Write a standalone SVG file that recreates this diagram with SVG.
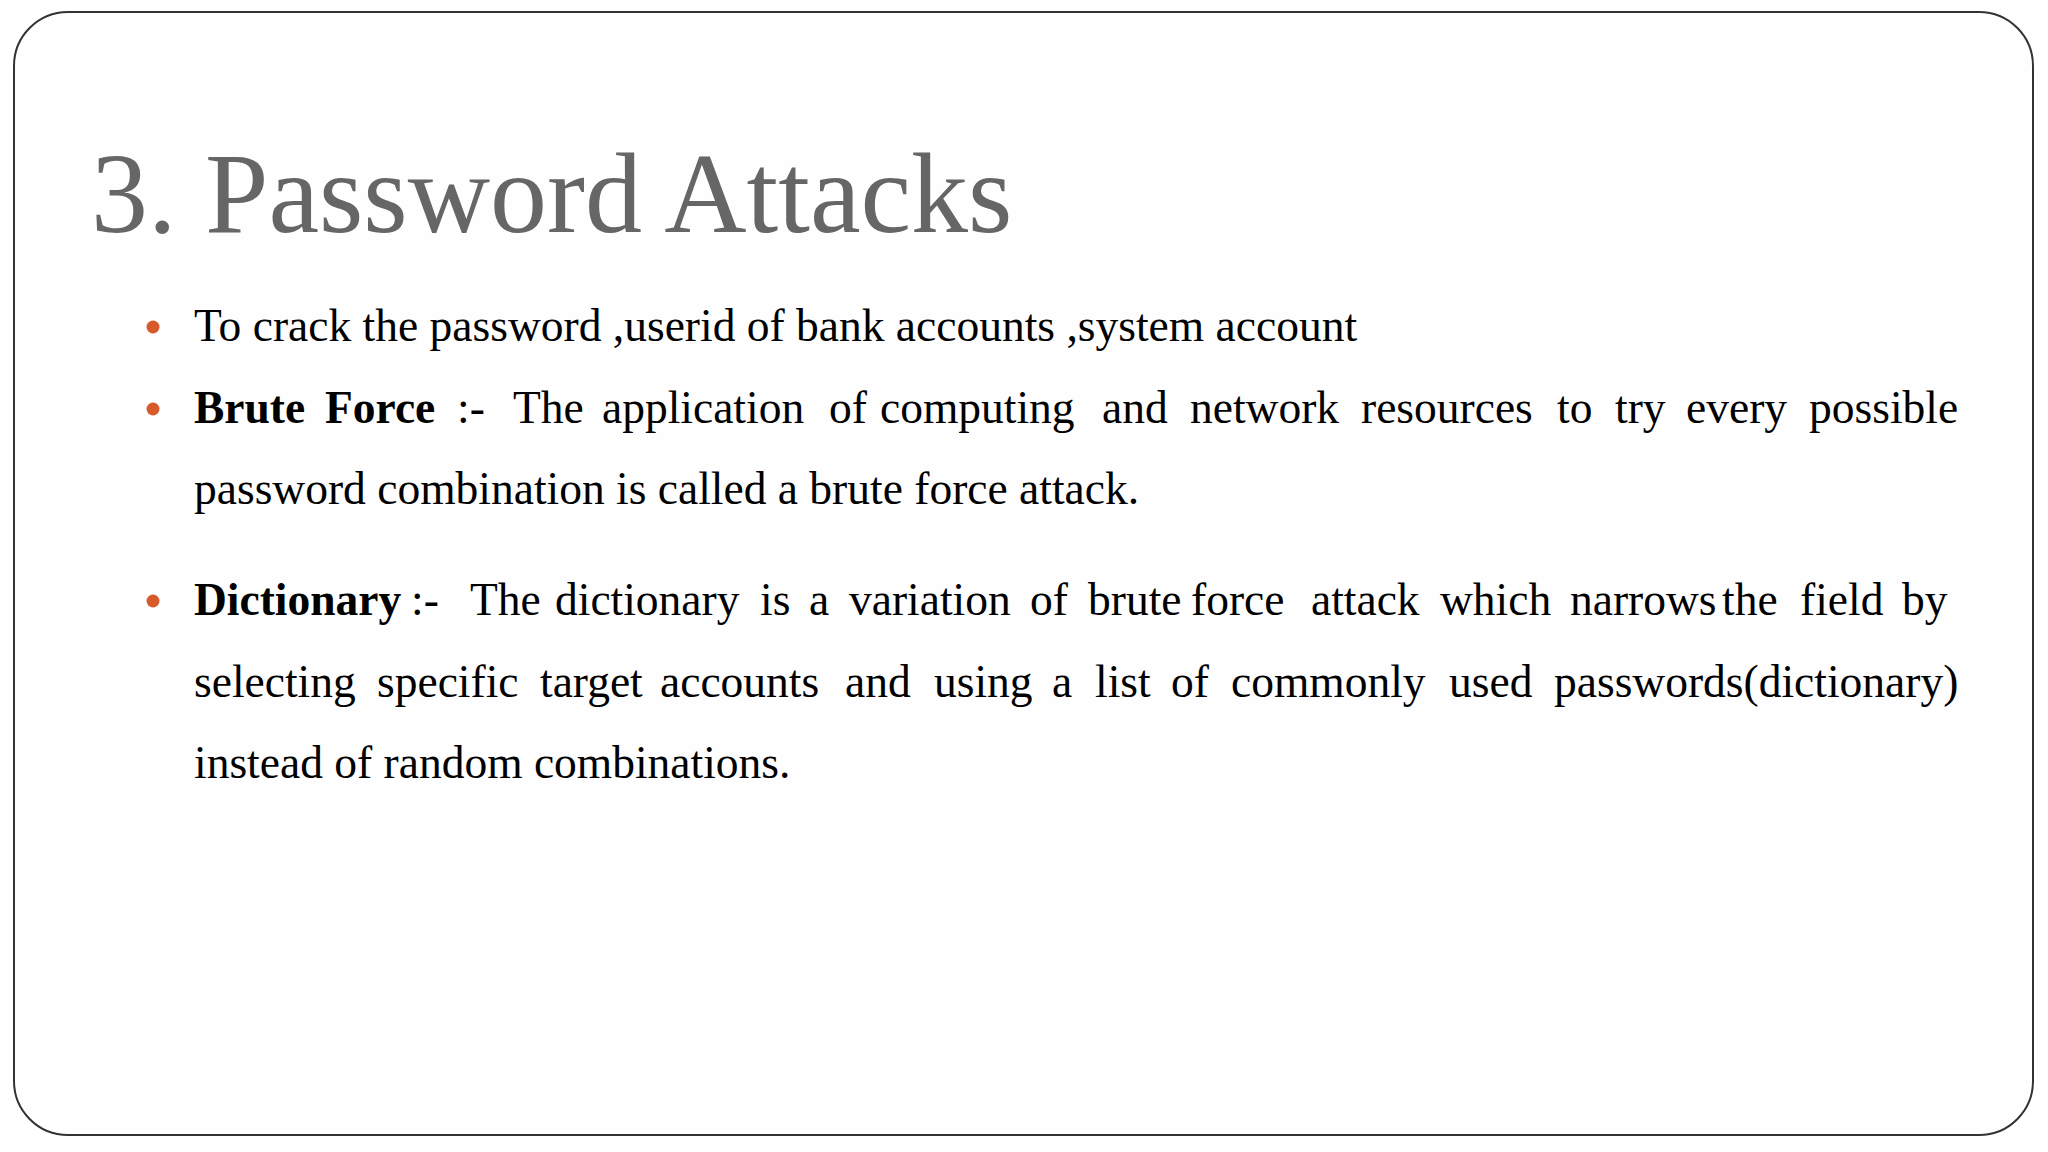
<svg xmlns="http://www.w3.org/2000/svg" width="2048" height="1152" viewBox="0 0 2048 1152">
<style>
.t{font-family:"Liberation Serif",serif;font-size:45.5px;fill:#000}
.b{font-weight:bold}
.dot{fill:#D65A2A}
</style>
<rect width="2048" height="1152" fill="#fff"/>
<g id="frame"><rect x="14" y="12" width="2019" height="1123" rx="54" fill="#fefefe" stroke="#333" stroke-width="2"/></g>
<g id="title"><text x="91" y="232" font-family="Liberation Serif,serif" font-size="114" fill="#666">3. Password Attacks</text></g>
<g id="bullets">
<circle class="dot" cx="153" cy="327" r="6.5"/>
<circle class="dot" cx="153" cy="409" r="6.5"/>
<circle class="dot" cx="153" cy="601" r="6.5"/>
<text class="t" x="194" y="341">To crack the password ,userid of bank accounts ,system account</text>
<text class="t" y="423"><tspan class="b" x="194">Brute</tspan><tspan class="b" x="325">Force</tspan><tspan x="457">:-</tspan><tspan x="513">The</tspan><tspan x="602">application</tspan><tspan x="829">of</tspan><tspan x="880">computing</tspan><tspan x="1102">and</tspan><tspan x="1190">network</tspan><tspan x="1361">resources</tspan><tspan x="1557">to</tspan><tspan x="1615">try</tspan><tspan x="1686">every</tspan><tspan x="1809">possible</tspan></text>
<text class="t" x="194" y="504">password combination is called a brute force attack.</text>
<text class="t" y="615"><tspan class="b" x="194">Dictionary</tspan><tspan x="411">:-</tspan><tspan x="470">The</tspan><tspan x="555">dictionary</tspan><tspan x="760">is</tspan><tspan x="809">a</tspan><tspan x="849">variation</tspan><tspan x="1030">of</tspan><tspan x="1088">brute</tspan><tspan x="1191">force</tspan><tspan x="1311">attack</tspan><tspan x="1440">which</tspan><tspan x="1570">narrows</tspan><tspan x="1722">the</tspan><tspan x="1800">field</tspan><tspan x="1902">by</tspan></text>
<text class="t" y="697"><tspan x="194">selecting</tspan><tspan x="377">specific</tspan><tspan x="540">target</tspan><tspan x="660">accounts</tspan><tspan x="845">and</tspan><tspan x="934">using</tspan><tspan x="1052">a</tspan><tspan x="1095">list</tspan><tspan x="1171">of</tspan><tspan x="1231">commonly</tspan><tspan x="1449">used</tspan><tspan x="1554">passwords(dictionary)</tspan></text>
<text class="t" x="194" y="778">instead of random combinations.</text>
</g>
</svg>
